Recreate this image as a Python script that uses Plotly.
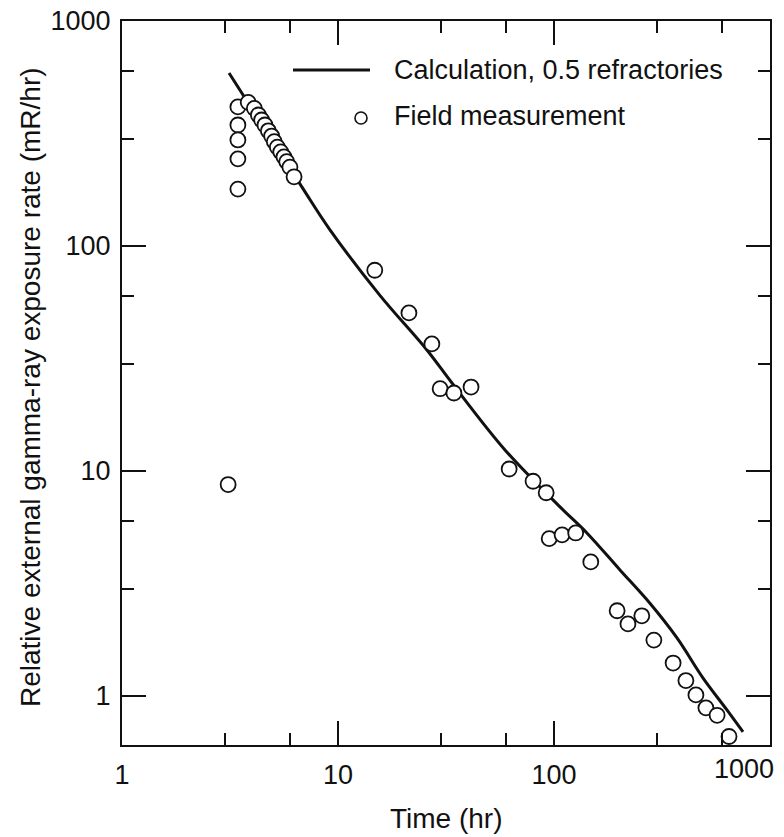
import numpy as np
import plotly.graph_objects as go

# ---- data ----
calc_time = [3.13, 6.79, 9.18, 15.6, 25.8, 33.7, 59.3, 106.6, 142, 202, 278, 371, 490, 632, 750]
calc_rate = [587, 183.6, 118, 60.5, 34.5, 24.6, 12.4, 6.92, 5.3, 3.63, 2.58, 1.81, 1.20, 0.866, 0.692]

meas_time = [3.1, 3.44, 3.44, 3.44, 3.44, 3.44,
             3.84, 4.10, 4.28, 4.43, 4.59, 4.76, 4.93, 5.07, 5.24, 5.43, 5.62, 5.79, 5.99, 6.26,
             14.8, 21.3, 27.2, 29.7, 34.4, 41.3, 62, 80, 92, 95, 109, 126, 148,
             196, 220, 255, 290, 356, 408, 454, 505, 569, 646]
meas_rate = [8.7, 415, 345, 296, 244, 179,
             435, 409, 382, 363, 345, 325, 308, 291, 275, 262, 249, 237, 224, 203,
             78, 50.4, 36.7, 23.2, 22.2, 23.6, 10.2, 9.0, 8.0, 5.0, 5.2, 5.3, 3.94,
             2.39, 2.09, 2.27, 1.77, 1.40, 1.17, 1.01, 0.885, 0.82, 0.66]

major_ticks = [1, 10, 100, 1000]
minor_ticks = [3, 6, 30, 60, 300, 600]
x_tick_text = ["1", "10", "100", ""]
y_tick_text = ["1", "10", "100", "1000"]

legend_calc = "Calculation, 0.5 refractories"
legend_meas = "Field measurement"
x_title = "Time (hr)"
y_title = "Relative external gamma-ray exposure rate (mR/hr)"

FONT = "Liberation Sans"
INK = "#111111"
TICK_SIZE = 27
TITLE_SIZE = 28
LEGEND_SIZE = 27

fig = go.Figure()
fig.add_trace(go.Scatter(x=calc_time, y=calc_rate, mode="lines",
                         line=dict(color=INK, width=3, shape="spline", smoothing=1.0),
                         showlegend=False, hoverinfo="skip"))
fig.add_trace(go.Scatter(x=meas_time, y=meas_rate, mode="markers",
                         marker=dict(symbol="circle", size=15, color="white",
                                     line=dict(color=INK, width=1.8)),
                         showlegend=False))

axis_common = dict(
    type="log", showgrid=False, zeroline=False,
    showline=True, linecolor=INK, linewidth=2, mirror="ticks",
    ticks="inside", ticklen=24, tickwidth=2, tickcolor=INK,
    tickmode="array", tickvals=major_ticks,
    tickfont=dict(family=FONT, size=TICK_SIZE, color=INK),
    minor=dict(tickmode="array", tickvals=minor_ticks, ticks="inside",
               ticklen=12, tickwidth=2, tickcolor=INK, showgrid=False),
)

fig.update_xaxes(**axis_common, range=[0, 3], ticktext=x_tick_text, ticklabelstandoff=5)
fig.update_yaxes(**axis_common, range=[np.log10(0.605), 3], ticktext=y_tick_text, ticklabelstandoff=4)

W, H = 784, 837
L, R, T, B = 122, 14, 21, 92
pw, ph = W - L - R, H - T - B

def px_x(p):
    return (p - L) / pw

def px_y(p):
    return (H - B - p) / ph

annotations = [
    dict(text="1000", x=3, xref="x", y=0, yref="paper", yanchor="top", xanchor="center",
         xshift=-26, yshift=-7, showarrow=False, font=dict(family=FONT, size=TICK_SIZE, color=INK)),
    dict(text=x_title, x=0.5, xref="paper", y=px_y(818), yref="paper", yanchor="middle",
         showarrow=False, font=dict(family=FONT, size=TITLE_SIZE, color=INK)),
    dict(text=y_title, x=px_x(30), xref="paper", y=px_y(387), yref="paper",
         xanchor="center", yanchor="middle", textangle=-90,
         showarrow=False, font=dict(family=FONT, size=TITLE_SIZE, color=INK)),
    dict(text=legend_calc, x=px_x(392), xref="paper", y=px_y(70), yref="paper",
         xanchor="left", yanchor="middle", showarrow=False,
         font=dict(family=FONT, size=LEGEND_SIZE, color=INK)),
    dict(text=legend_meas, x=px_x(392), xref="paper", y=px_y(116), yref="paper",
         xanchor="left", yanchor="middle", showarrow=False,
         font=dict(family=FONT, size=LEGEND_SIZE, color=INK)),
]

shapes = [
    dict(type="line", xref="paper", yref="paper", x0=px_x(293), x1=px_x(370),
         y0=px_y(70), y1=px_y(70), line=dict(color=INK, width=3)),
    dict(type="circle", xref="paper", yref="paper", xsizemode="pixel", ysizemode="pixel",
         xanchor=px_x(361), yanchor=px_y(118), x0=-6, x1=6, y0=-6, y1=6,
         line=dict(color=INK, width=1.6), fillcolor="white"),
]

fig.update_layout(
    width=W, height=H,
    margin=dict(l=L, r=R, t=T, b=B, autoexpand=False),
    paper_bgcolor="white", plot_bgcolor="white",
    showlegend=False,
    annotations=annotations, shapes=shapes,
)

fig.write_html("out.html")
